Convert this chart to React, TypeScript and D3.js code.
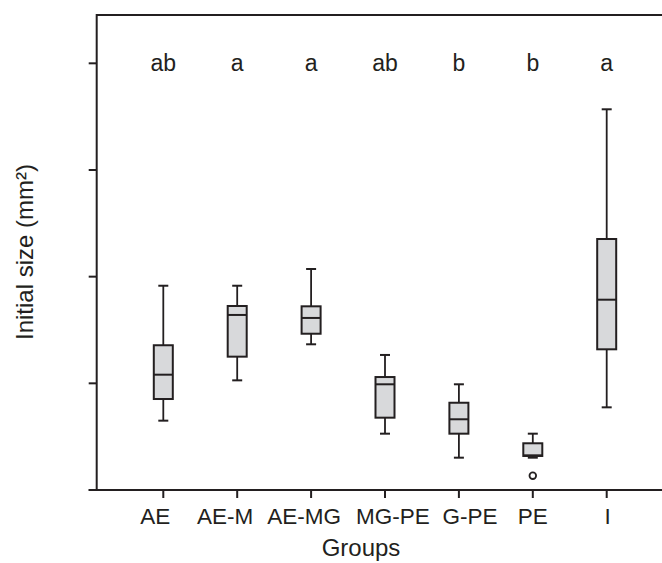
import React from "react";
import * as d3 from "d3";

const groups = ["AE", "AE-M", "AE-MG", "MG-PE", "G-PE", "PE", "I"];
const whiskerLow = [0.65, 1.028, 1.366, 0.528, 0.303, 0.303, 0.775];
const q1 = [0.853, 1.25, 1.465, 0.678, 0.528, 0.319, 1.319];
const median = [1.081, 1.641, 1.613, 0.991, 0.663, 0.325, 1.784];
const q3 = [1.357, 1.725, 1.722, 1.059, 0.818, 0.438, 2.353];
const whiskerHigh = [1.915, 1.915, 2.072, 1.266, 0.991, 0.528, 3.569];
const outliers: [string, number][] = [["PE", 0.134]];
const letters = ["ab", "a", "a", "ab", "b", "b", "a"];
const yTicks = [0, 1, 2, 3, 4];

const W = 662;
const H = 563;
const INK = "#231f20";
const FILL = "#d8d9db";
const FONT = "'Liberation Sans', Arial, Helvetica, sans-serif";

export default function App() {
  const left = 96.7;
  const top = 15;
  const bottom = 490;
  const y = d3.scaleLinear().domain([0, 4.453]).range([bottom, top]);
  const x = d3.scalePoint<string>().domain(groups).range([163.3, 606.7]);
  const boxW = 19;
  const capW = 10;
  const labelNudge = [-8, -12, -7, 8, 11, 0, 1];

  return (
    <svg
      width={W}
      height={H}
      style={{ position: "absolute", left: 0, top: 0, background: "#fff" }}
      fontFamily={FONT}
    >
      <rect width={W} height={H} fill="#fff" />
      {/* frame */}
      <line x1={left} x2={W} y1={top} y2={top} stroke={INK} strokeWidth={2} />
      <line x1={left} x2={left} y1={top - 1} y2={bottom} stroke={INK} strokeWidth={2} />
      <line x1={left - 8} x2={W} y1={bottom} y2={bottom} stroke={INK} strokeWidth={2} />
      {yTicks.map((t) => (
        <line key={t} x1={left - 8} x2={left} y1={y(t)} y2={y(t)} stroke={INK} strokeWidth={2} />
      ))}
      {groups.map((g) => (
        <line key={g} x1={x(g)} x2={x(g)} y1={bottom} y2={bottom + 8} stroke={INK} strokeWidth={2} />
      ))}
      {groups.map((g, i) => (
        <text
          key={g}
          x={(x(g) as number) + labelNudge[i]}
          y={523.5}
          textAnchor="middle"
          fontSize={22.5}
          fill={INK}
        >
          {g}
        </text>
      ))}
      <text x={361} y={556} textAnchor="middle" fontSize={24} fill={INK}>
        Groups
      </text>
      <text
        transform={`translate(33,252) rotate(-90)`}
        textAnchor="middle"
        fontSize={24}
        fill={INK}
      >
        Initial size (mm²)
      </text>
      {/* boxes */}
      {groups.map((g, i) => {
        const cx = x(g) as number;
        return (
          <g key={g}>
            <line x1={cx} x2={cx} y1={y(whiskerHigh[i])} y2={y(q3[i])} stroke={INK} strokeWidth={1.8} />
            <line x1={cx} x2={cx} y1={y(q1[i])} y2={y(whiskerLow[i])} stroke={INK} strokeWidth={1.8} />
            <line x1={cx - capW / 2} x2={cx + capW / 2} y1={y(whiskerHigh[i])} y2={y(whiskerHigh[i])} stroke={INK} strokeWidth={2} />
            <line x1={cx - capW / 2} x2={cx + capW / 2} y1={y(whiskerLow[i])} y2={y(whiskerLow[i])} stroke={INK} strokeWidth={2} />
            <rect
              x={cx - boxW / 2}
              y={y(q3[i])}
              width={boxW}
              height={y(q1[i]) - y(q3[i])}
              fill={FILL}
              stroke={INK}
              strokeWidth={2}
            />
            <line x1={cx - boxW / 2} x2={cx + boxW / 2} y1={y(median[i])} y2={y(median[i])} stroke={INK} strokeWidth={2} />
            <text x={cx} y={71} textAnchor="middle" fontSize={23} fill={INK}>
              {letters[i]}
            </text>
          </g>
        );
      })}
      {outliers.map(([g, v], i) => (
        <circle key={i} cx={x(g) as number} cy={y(v)} r={3.3} fill="#fff" stroke={INK} strokeWidth={1.8} />
      ))}
    </svg>
  );
}
